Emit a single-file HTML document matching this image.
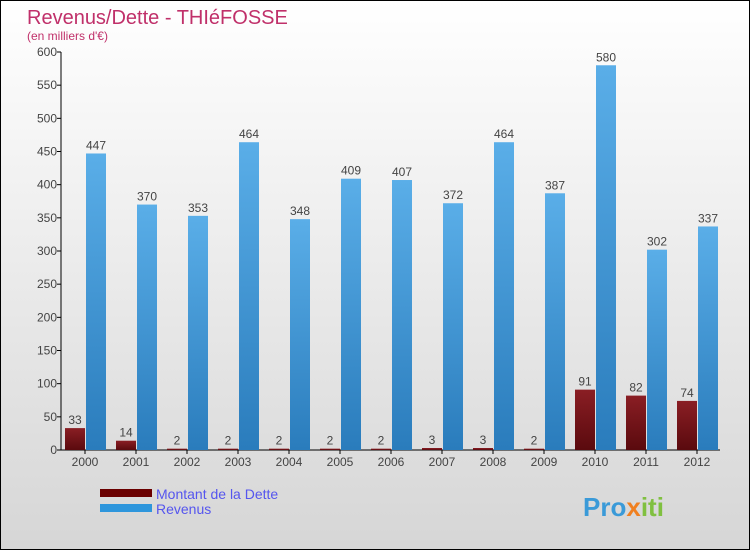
<!DOCTYPE html>
<html><head><meta charset="utf-8"><style>
body{margin:0;}
#wrap{width:750px;height:550px;position:relative;box-sizing:border-box;border:1px solid #000;background:linear-gradient(#ffffff,#d6d6d6);font-family:"Liberation Sans",sans-serif;overflow:hidden}
</style></head><body>
<div id="wrap">
<svg id="chart" width="750" height="550" style="position:absolute;left:-1px;top:-1px">
<defs>
<linearGradient id="gd" x1="0" y1="0" x2="0" y2="1"><stop offset="0" stop-color="#8a1e24"/><stop offset="1" stop-color="#5a0a0e"/></linearGradient>
<linearGradient id="gr" x1="0" y1="0" x2="0" y2="1"><stop offset="0" stop-color="#5aaee8"/><stop offset="1" stop-color="#2a7cbc"/></linearGradient>
</defs>
<text x="27" y="24" font-size="20" fill="#c0306a">Revenus/Dette - THIéFOSSE</text>
<text x="27" y="40" font-size="12" fill="#c0306a">(en milliers d'€)</text>
<g id="axes"></g>
<g id="bars"></g>
<rect x="100" y="489" width="52" height="8" fill="#6a0000"/>
<text x="156" y="499" font-size="14" fill="#5555ee">Montant de la Dette</text>
<rect x="100" y="504" width="52" height="8" fill="#2e96dc"/>
<text x="156" y="514" font-size="14" fill="#5555ee">Revenus</text>
<text x="583" y="516" font-size="26" font-weight="bold" fill="#3a9ad8">Pro<tspan fill="#f08020">x</tspan><tspan fill="#80c040">iti</tspan></text>
</svg>
</div>
<script>
const years=["2000","2001","2002","2003","2004","2005","2006","2007","2008","2009","2010","2011","2012"];
const dette=[33,14,2,2,2,2,2,3,3,2,91,82,74];
const revenus=[447,370,353,464,348,409,407,372,464,387,580,302,337];
const yTicks=[0,50,100,150,200,250,300,350,400,450,500,550,600];
const NS="http://www.w3.org/2000/svg";
const x0=61,x1=720,yb=450,yt=52,yMax=600;
const y=v=>yb-(v/yMax)*(yb-yt);
const step=51, first=85;
const cx=i=>first+i*step;
function mk(tag,attrs,parent){const e=document.createElementNS(NS,tag);for(const k in attrs)e.setAttribute(k,attrs[k]);parent.appendChild(e);return e;}
const ax=document.getElementById('axes'),bg=document.getElementById('bars');
let e=mk('line',{x1:x0,y1:yt,x2:x0,y2:yb,stroke:'#000'},ax);


e=mk('line',{x1:x0,y1:yb,x2:x1,y2:yb,stroke:'#000'},ax);


yTicks.forEach(t=>{
 let l=mk('line',{x1:x0-4,y1:y(t),x2:x0,y2:y(t),stroke:'#000'},ax);
 
 
 let tx=mk('text',{x:x0-4,y:y(t)+4,'font-size':12,'text-anchor':'end',fill:'#444'},ax);
 tx.textContent=t;
 
 
});
years.forEach((yr,i)=>{
 const c=cx(i);
 let l=mk('line',{x1:c,y1:yb,x2:c,y2:yb+4,stroke:'#000'},ax);
 
 
 let t=mk('text',{x:c,y:yb+16,'font-size':12,'text-anchor':'middle',fill:'#444'},ax);
 t.textContent=yr;
 
 
 let d=mk('rect',{x:c-20,y:y(dette[i]),width:20,height:yb-y(dette[i]),fill:'url(#gd)'},bg);
 
 
 let dl=mk('text',{x:c-10,y:y(dette[i])-4,'font-size':12,'text-anchor':'middle',fill:'#444'},bg);
 dl.textContent=dette[i];
 
 
 let r=mk('rect',{x:c+1,y:y(revenus[i]),width:20,height:yb-y(revenus[i]),fill:'url(#gr)'},bg);
 
 
 let rl=mk('text',{x:c+11,y:y(revenus[i])-4,'font-size':12,'text-anchor':'middle',fill:'#444'},bg);
 rl.textContent=revenus[i];
 
 
});
</script>
</body></html>
